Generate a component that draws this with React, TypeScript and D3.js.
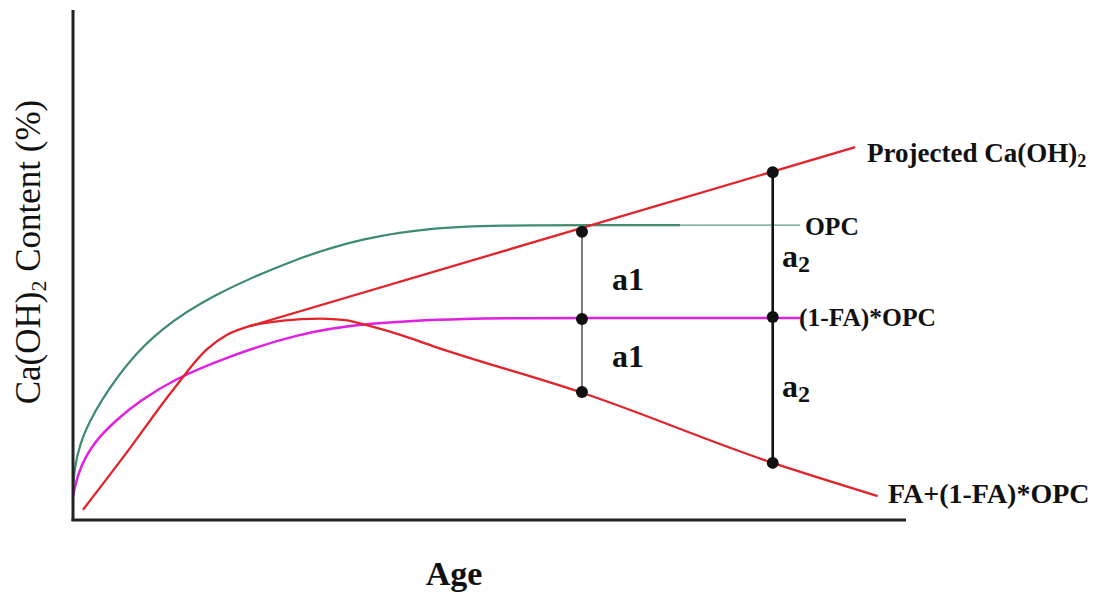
import React from "react";
import * as d3 from "d3";

// ---- data (conceptual units: age 0..100, Ca(OH)2 content 0..100) ----
const opcAge = [0, 0.12, 0.84, 2.04, 3.24, 6.48, 10.4, 16.4, 26.9, 34.8, 42.9, 50.9, 62.9, 72.9];
const opcContent = [4.9, 9.8, 15.1, 19.4, 23.1, 30.8, 37.3, 43.9, 51.4, 55.3, 57.3, 57.8, 57.8, 57.8];
const opcTailAge = [72.9, 87.3];
const opcTailContent = [57.8, 57.8];

const dilutedAge = [0, 0.24, 0.84, 2.4, 5.3, 8.0, 12.0, 18.5, 26.9, 34.8, 46.8, 60.0, 87.3];
const dilutedContent = [4.5, 6.7, 10.2, 15.1, 19.8, 23.3, 27.5, 32.0, 36.5, 38.6, 39.6, 39.6, 39.6];

const faAge = [1.2, 6.48, 12.0, 16.1, 18.5, 21.2, 25.2, 29.7, 32.7, 35.7, 39.3, 43.2, 61.2, 84.0, 96.6];
const faContent = [2.0, 13.3, 25.5, 33.5, 36.3, 38.0, 39.1, 39.5, 39.2, 38.0, 36.3, 34.1, 24.9, 11.2, 4.7];

const projAge = [21.2, 93.9];
const projContent = [38.0, 73.1];

const markAge = [61.1, 61.1, 61.1, 84.0, 84.0, 84.0];
const markContent = [56.5, 39.4, 25.1, 68.2, 39.8, 11.2];

const W = 1104;
const H = 595;

const zip = (a: number[], b: number[]) => a.map((v, i) => [v, b[i]] as [number, number]);

export default function App() {
  const x = d3.scaleLinear().domain([0, 100]).range([73, 906]);
  const y = d3.scaleLinear().domain([0, 100]).range([520, 10]);
  const basis = d3
    .line<[number, number]>()
    .x((d) => x(d[0]))
    .y((d) => y(d[1]))
    .curve(d3.curveBasis);
  const mono = d3
    .line<[number, number]>()
    .x((d) => x(d[0]))
    .y((d) => y(d[1]))
    .curve(d3.curveMonotoneX);
  const straight = d3
    .line<[number, number]>()
    .x((d) => x(d[0]))
    .y((d) => y(d[1]));

  const serif = "'Liberation Serif', 'Times New Roman', Times, serif";
  const red = "#e3222b";
  const green = "#3d8c6c";
  const magenta = "#e020e0";

  const left = [0, 1, 2];
  const right = [3, 4, 5];

  return (
    <svg
      width={W}
      height={H}
      style={{ position: "absolute", left: 0, top: 0, background: "#fff" }}
      fontFamily={serif}
    >
      <rect width={W} height={H} fill="#fff" />
      {/* curves */}
      <path d={basis(zip(opcAge, opcContent)) || ""} fill="none" stroke={green} strokeWidth={2.2} />
      <path d={straight(zip(opcTailAge, opcTailContent)) || ""} fill="none" stroke="#5a9e84" strokeWidth={1.3} />
      <path d={basis(zip(dilutedAge, dilutedContent)) || ""} fill="none" stroke={magenta} strokeWidth={2.5} />
      <path d={mono(zip(faAge, faContent)) || ""} fill="none" stroke={red} strokeWidth={2.3} />
      <path d={straight(zip(projAge, projContent)) || ""} fill="none" stroke={red} strokeWidth={2.3} />

      {/* vertical measuring bars */}
      <line
        x1={x(markAge[0])}
        x2={x(markAge[0])}
        y1={y(d3.max(left.map((i) => markContent[i])) as number)}
        y2={y(d3.min(left.map((i) => markContent[i])) as number)}
        stroke="#6e6e6e"
        strokeWidth={1.8}
      />
      <line
        x1={x(markAge[3])}
        x2={x(markAge[3])}
        y1={y(d3.max(right.map((i) => markContent[i])) as number)}
        y2={y(d3.min(right.map((i) => markContent[i])) as number)}
        stroke="#111"
        strokeWidth={2.6}
      />
      {markAge.map((a, i) => (
        <circle key={i} cx={x(a)} cy={y(markContent[i])} r={6} fill="#111" />
      ))}

      {/* axes */}
      <line x1={73} x2={73} y1={10} y2={521} stroke="#222" strokeWidth={3} />
      <line x1={71.5} x2={906} y1={520} y2={520} stroke="#222" strokeWidth={3} />

      {/* series labels */}
      <text x={867} y={162} fontSize={27} fontWeight="bold" fill="#111">
        Projected Ca(OH)<tspan fontSize={18} dy={5}>2</tspan>
      </text>
      <text x={805} y={235} fontSize={25.5} fontWeight="bold" fill="#111">OPC</text>
      <text x={799} y={326} fontSize={25.5} fontWeight="bold" fill="#111">(1-FA)*OPC</text>
      <text x={888} y={503} fontSize={28} fontWeight="bold" fill="#111">FA+(1-FA)*OPC</text>

      {/* a1 / a2 labels */}
      <text x={612} y={290} fontSize={32} fontWeight="bold" fill="#111">a1</text>
      <text x={612} y={367} fontSize={32} fontWeight="bold" fill="#111">a1</text>
      <text x={782} y={267} fontSize={32} fontWeight="bold" fill="#111">
        a<tspan fontSize={24} dy={5}>2</tspan>
      </text>
      <text x={782} y={397} fontSize={32} fontWeight="bold" fill="#111">
        a<tspan fontSize={24} dy={5}>2</tspan>
      </text>

      {/* axis titles */}
      <text x={454} y={585} fontSize={34} fontWeight="bold" textAnchor="middle" fill="#111">Age</text>
      <text
        transform={`translate(40,252) rotate(-90)`}
        fontSize={35}
        textAnchor="middle"
        fill="#111"
      >
        Ca(OH)<tspan fontSize={22} dy={6}>2</tspan>
        <tspan dy={-6}> Content (%)</tspan>
      </text>
    </svg>
  );
}
